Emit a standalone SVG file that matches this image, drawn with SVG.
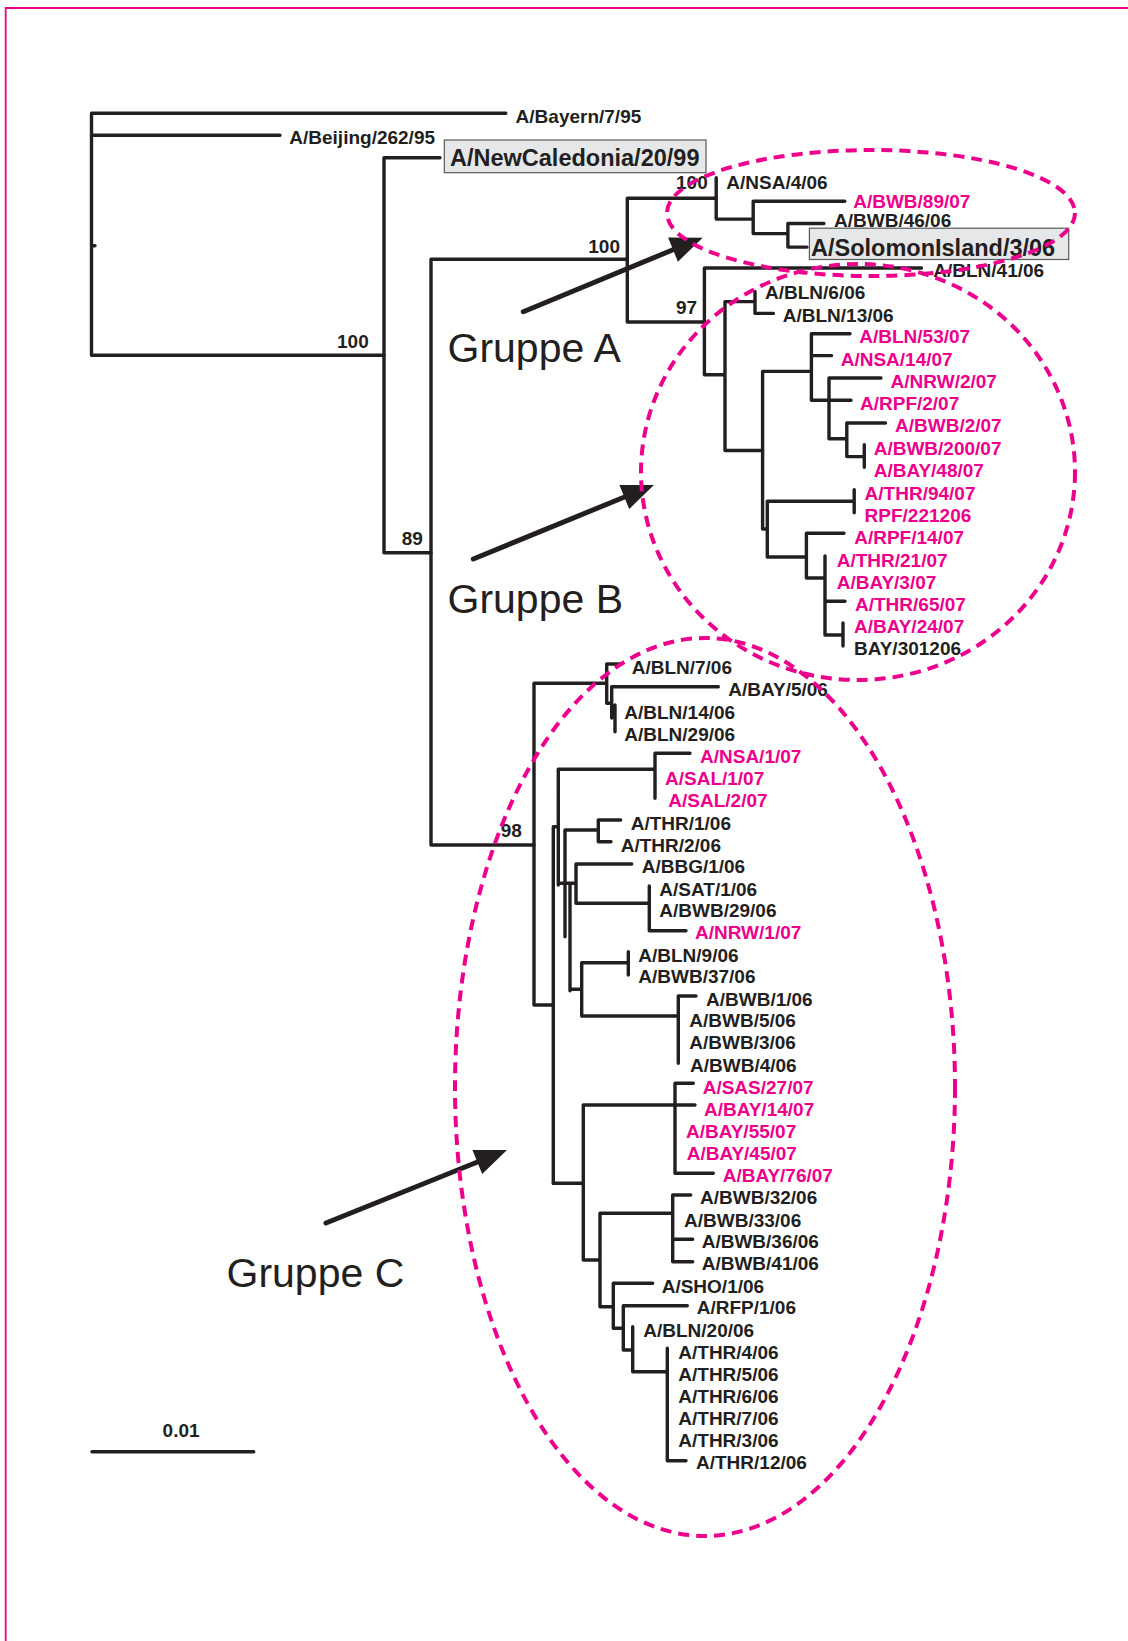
<svg xmlns="http://www.w3.org/2000/svg" width="1128" height="1641" viewBox="0 0 1128 1641">
<style>
.t{font-family:"Liberation Sans",Arial,sans-serif;font-weight:bold;font-size:19px;fill:#231f20}
.m{fill:#ec008c}
.big{font-size:23.5px}
.grp{font-family:"Liberation Sans",Arial,sans-serif;font-size:41px;fill:#231f20}
.tree{fill:none;stroke:#231f20;stroke-width:3.4;stroke-linecap:round;stroke-linejoin:miter}
.ell{fill:none;stroke:#ec008c;stroke-width:4;stroke-dasharray:11 7}
.box{fill:#e6e7e8;stroke:#58595b;stroke-width:1.2}
.arr{stroke:#231f20;stroke-width:5;stroke-linecap:round;fill:none}
.head{fill:#231f20}
</style>
<rect width="1128" height="1641" fill="#fff"/>
<path d="M5.7 1641V8H1128" fill="none" stroke="#ec008c" stroke-width="1.8"/>

<g id="connectors" class="tree">
<path d="M91.5 113.3V355.3M91.5 113.3H505.8M91.5 135.3H280M91.5 355.3H384M91.5 245.7H95"/>
<path d="M384 157.7V552.7M384 157.7H440M384 552.7H431"/>
<path d="M431 259.3V845M431 259.3H627.3M431 845H534"/>
<path d="M627.3 198.3V322M627.3 198.3H716.2M627.3 322H704.4"/>
<path d="M716.2 177.7V219.1M716.2 219.1H753.2M753.2 201.3V233.6M753.2 201.3H844.8M753.2 233.6H787.9M787.9 223.5V247.1M787.9 223.5H823.9M787.9 247.1H807"/>
<path d="M704.4 268V374.7M704.4 268H921.5M704.4 374.7H725M725 301.6V450.5M725 301.6H755M725 450.5H762.6M755 291.5V313.4M755 313.4H773.4"/>
<path d="M762.6 371.4V529M762.6 371.4H811.4M762.6 529H767.3M811.4 333.7V400.3M811.4 333.7H850M811.4 355.6H831.6M811.4 400.3H851M829 378V438.7M829 378H881M829 438.7H846.8M846.8 423V456.6M846.8 423H885.5M846.8 456.6H864.3M864.3 444.8V467.3"/>
<path d="M767.3 501.3V557M767.3 501.3H854.2M767.3 557H806.4M854.2 489.6V512.8M806.4 533.3V578M806.4 533.3H844M806.4 578H825M825 556V635M825 601.3H845M825 635H843M843 623V646"/>
<path d="M534 683.3V1005M534 683.3H606.7M534 1005H553.3M606.7 664V703.3M606.7 664H620.7M606.7 703.3H611.7M611.7 686.7V718M611.7 686.7H718.3M615 705V731.7"/>
<path d="M553.3 826.7V1183.3M553.3 826.7H558.3M558.3 769.3V885M558.3 769.3H655M655 753.3V798.3M655 753.3H690M565 830V936.7M565 830H598.3M598.3 820V841.7M598.3 820H620.7M598.3 841.7H611M558.3 883.3H576M570 883.3V990.7M576 864V903.3M576 864H631.7M576 903.3H649.3M649.3 886V930.7M649.3 930.7H686M570 989.3H581.7M581.7 962.7V1016M581.7 962.7H628.3M628.3 951.7V975M581.7 1016H678.3M678.3 996V1063.3M678.3 996H696"/>
<path d="M553.3 1183.3H583.3M583.3 1105V1260M583.3 1105H675M675 1083.3V1173.3M675 1083.3H693.3M675 1105H695M675 1173.3H713.3M583.3 1260H600M600 1213.3V1306.7M600 1213.3H672.7M672.7 1195V1261.7M672.7 1195H690.7M672.7 1239.3H692.7M672.7 1261.7H692.7M600 1306.7H613.3M613.3 1283.3V1328.3M613.3 1283.3H652.7M613.3 1328.3H623.3M623.3 1305.7V1350M623.3 1305.7H687.3M623.3 1350H632.7M632.7 1326.7V1371.7M632.7 1371.7H667.3M667.3 1348.3V1460.7M667.3 1460.7H686"/>
<path d="M92 1451.7H253.7"/>
</g>

<g id="bootstrap" class="t">
<text x="337" y="347.7">100</text>
<text x="401.7" y="545">89</text>
<text x="588.3" y="252.7">100</text>
<text x="676" y="189">100</text>
<text x="676" y="314.3">97</text>
<text x="500.7" y="836.7">98</text>
<text x="162.6" y="1437.3">0.01</text>
</g>

<g id="ref-boxes">
<g id="n-newcaledonia"><rect class="box" x="444.3" y="140" width="261.7" height="32.7"/><text class="t big" x="450" y="166">A/NewCaledonia/20/99</text></g>
<g id="n-solomon"><rect class="box" x="809.4" y="228.2" width="259.3" height="31.3"/><text class="t big" x="811" y="256">A/SolomonIsland/3/06</text></g>
</g>

<g id="leaves" class="t">
<g id="n-bayern"><text x="515.6" y="122.7">A/Bayern/7/95</text></g>
<g id="n-beijing"><text x="289.3" y="143.5">A/Beijing/262/95</text></g>
<g id="n-nsa4"><text x="726.3" y="188.8">A/NSA/4/06</text></g>
<g id="n-bwb89"><text class="m" x="853.2" y="208">A/BWB/89/07</text></g>
<g id="n-bwb46"><text x="834" y="226.5">A/BWB/46/06</text></g>
<g id="n-bln41"><text x="933.3" y="277.4">A/BLN/41/06</text></g>
<g id="n-bln6"><text x="765" y="299">A/BLN/6/06</text></g>
<g id="n-bln13"><text x="782.8" y="321.8">A/BLN/13/06</text></g>
<g id="n-bln53"><text class="m" x="859.3" y="343.1">A/BLN/53/07</text></g>
<g id="n-nsa14"><text class="m" x="840.7" y="365.7">A/NSA/14/07</text></g>
<g id="n-nrw2"><text class="m" x="890.6" y="388.2">A/NRW/2/07</text></g>
<g id="n-rpf2"><text class="m" x="860" y="410.4">A/RPF/2/07</text></g>
<g id="n-bwb2"><text class="m" x="895" y="432.3">A/BWB/2/07</text></g>
<g id="n-bwb200"><text class="m" x="873.7" y="454.9">A/BWB/200/07</text></g>
<g id="n-bay48"><text class="m" x="873.7" y="476.8">A/BAY/48/07</text></g>
<g id="n-thr94"><text class="m" x="864.6" y="499.7">A/THR/94/07</text></g>
<g id="n-rpf221206"><text class="m" x="864.6" y="521.5">RPF/221206</text></g>
<g id="n-rpf14"><text class="m" x="854.2" y="544.1">A/RPF/14/07</text></g>
<g id="n-thr21"><text class="m" x="836.7" y="566.7">A/THR/21/07</text></g>
<g id="n-bay3"><text class="m" x="836.7" y="588.9">A/BAY/3/07</text></g>
<g id="n-thr65"><text class="m" x="855" y="611.4">A/THR/65/07</text></g>
<g id="n-bay24"><text class="m" x="854" y="633.3">A/BAY/24/07</text></g>
<g id="n-bay301206"><text x="854" y="655.2">BAY/301206</text></g>
<g id="n-bln7"><text x="631.7" y="674.3">A/BLN/7/06</text></g>
<g id="n-bay5"><text x="728.3" y="696">A/BAY/5/06</text></g>
<g id="n-bln14"><text x="624.3" y="719">A/BLN/14/06</text></g>
<g id="n-bln29"><text x="624.3" y="740.7">A/BLN/29/06</text></g>
<g id="n-nsa1"><text class="m" x="700" y="762.7">A/NSA/1/07</text></g>
<g id="n-sal1"><text class="m" x="665" y="785">A/SAL/1/07</text></g>
<g id="n-sal2"><text class="m" x="668.3" y="806.7">A/SAL/2/07</text></g>
<g id="n-thr1"><text x="630.7" y="830">A/THR/1/06</text></g>
<g id="n-thr2"><text x="620.7" y="851.7">A/THR/2/06</text></g>
<g id="n-bbg1"><text x="641.7" y="873.3">A/BBG/1/06</text></g>
<g id="n-sat1"><text x="659.3" y="896">A/SAT/1/06</text></g>
<g id="n-bwb29"><text x="659.3" y="917.3">A/BWB/29/06</text></g>
<g id="n-nrw1"><text class="m" x="695" y="939.3">A/NRW/1/07</text></g>
<g id="n-bln9"><text x="638.3" y="961.7">A/BLN/9/06</text></g>
<g id="n-bwb37"><text x="638.3" y="983.3">A/BWB/37/06</text></g>
<g id="n-bwb1"><text x="706" y="1006">A/BWB/1/06</text></g>
<g id="n-bwb5"><text x="689.3" y="1027.3">A/BWB/5/06</text></g>
<g id="n-bwb3"><text x="689.3" y="1049.3">A/BWB/3/06</text></g>
<g id="n-bwb4"><text x="690" y="1071.7">A/BWB/4/06</text></g>
<g id="n-sas27"><text class="m" x="702.7" y="1094">A/SAS/27/07</text></g>
<g id="n-bay14"><text class="m" x="704" y="1116">A/BAY/14/07</text></g>
<g id="n-bay55"><text class="m" x="686" y="1138.3">A/BAY/55/07</text></g>
<g id="n-bay45"><text class="m" x="686.7" y="1160">A/BAY/45/07</text></g>
<g id="n-bay76"><text class="m" x="722.7" y="1182.3">A/BAY/76/07</text></g>
<g id="n-bwb32"><text x="700" y="1204.3">A/BWB/32/06</text></g>
<g id="n-bwb33"><text x="684" y="1226.7">A/BWB/33/06</text></g>
<g id="n-bwb36"><text x="701.7" y="1248.3">A/BWB/36/06</text></g>
<g id="n-bwb41"><text x="701.7" y="1270">A/BWB/41/06</text></g>
<g id="n-sho1"><text x="661.7" y="1292.7">A/SHO/1/06</text></g>
<g id="n-rfp1"><text x="696.7" y="1314.3">A/RFP/1/06</text></g>
<g id="n-bln20"><text x="643.3" y="1336.7">A/BLN/20/06</text></g>
<g id="n-thr4"><text x="678.3" y="1359.3">A/THR/4/06</text></g>
<g id="n-thr5"><text x="678.3" y="1381">A/THR/5/06</text></g>
<g id="n-thr6"><text x="678.3" y="1403.3">A/THR/6/06</text></g>
<g id="n-thr7"><text x="678.3" y="1425">A/THR/7/06</text></g>
<g id="n-thr3"><text x="678.3" y="1447.3">A/THR/3/06</text></g>
<g id="n-thr12"><text x="696" y="1469.3">A/THR/12/06</text></g>
</g>

<g id="groups">
<g id="grp-a"><text class="grp" x="447.5" y="362.3">Gruppe A</text>
<path class="arr" d="M523.3 311.7L676 248.5"/><polygon class="head" points="702.7,237.7 677.9,261.7 668.1,237.6"/></g>
<g id="grp-b"><text class="grp" x="447.5" y="613.3">Gruppe B</text>
<path class="arr" d="M473.3 559L627 496"/><polygon class="head" points="654,485 629.2,509.1 619.4,484.9"/></g>
<g id="grp-c"><text class="grp" x="226.5" y="1286.7">Gruppe C</text>
<path class="arr" d="M326 1223L480 1161"/><polygon class="head" points="507,1150 482.2,1174.1 472.4,1149.9"/></g>
</g>

<g id="clusters">
<ellipse class="ell" cx="871" cy="213" rx="204" ry="63"/>
<ellipse class="ell" cx="858" cy="472" rx="217" ry="208"/>
<ellipse class="ell" cx="705" cy="1087" rx="250" ry="449"/>
</g>
</svg>
